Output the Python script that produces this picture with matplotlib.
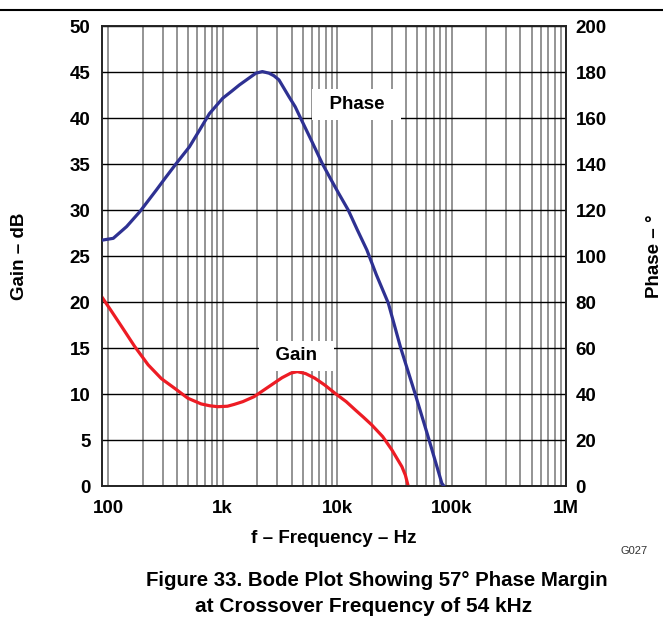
import numpy as np
import matplotlib
matplotlib.use('Agg')
from matplotlib import pyplot as plt
from matplotlib.ticker import FixedLocator, NullFormatter

plt.rcParams['font.family'] = ['Liberation Sans', 'DejaVu Sans']
plt.rcParams['font.weight'] = 'bold'

# Gain curve (Hz, dB)
gain_freq = [87.6, 107, 131, 170, 223, 291, 380, 496, 648, 770, 904, 1100, 1260, 1500,
             1880, 2800, 3300, 3940, 4480, 5300, 6400, 7800, 9600, 12000, 14400,
             17000, 20100, 25000, 30100, 36800, 39500, 41800]
gain_db = [20.6, 19.0, 17.35, 15.2, 13.2, 11.7, 10.65, 9.57, 8.95, 8.75, 8.65, 8.7, 8.9, 9.2,
           9.74, 11.2, 11.8, 12.3, 12.46, 12.25, 11.74, 11.0, 10.1, 9.2, 8.3,
           7.5, 6.66, 5.4, 3.95, 2.13, 1.2, 0.0]

# Phase curve (Hz, degrees)
phase_freq = [88, 110.5, 144.6, 188.7, 263, 320, 393.6, 512, 630, 765, 1000, 1200, 1400,
              1700, 1950, 2220, 2540, 2800, 3100, 3790, 4300, 4800, 6000, 7400, 8800,
              10300, 12500, 15000, 18200, 22000, 28000, 36000, 47900, 62000, 82200, 86000]
phase_deg = [107, 107.8, 112.9, 119.4, 128.8, 134.5, 140.4, 147.6, 155, 162, 168.7, 171.8, 174.5,
             177.5, 179.6, 180.3, 179.6, 178.5, 176.7, 169.4, 165, 160, 150, 140.4, 133.5,
             127.4, 120.1, 111.5, 102.7, 92, 79.6, 60, 40.4, 22, 1.3, 0]

freq_ticks = [1e2, 1e3, 1e4, 1e5, 1e6]
freq_labels = ['100', '1k', '10k', '100k', '1M']
gain_ticks = list(range(0, 51, 5))
phase_ticks = list(range(0, 201, 20))

fig = plt.figure(figsize=(6.63, 6.33), dpi=100)
ax = fig.add_axes([0.1534, 0.2318, 0.7003, 0.7267])
ax2 = ax.twinx()

ax.set_xscale('log')
ax.set_xlim(87.6, 1e6)
ax.set_ylim(0, 50)
ax2.set_ylim(0, 200)

# grid
minor = [m * d for d in [1e2, 1e3, 1e4, 1e5] for m in range(2, 10)]
ax.xaxis.set_major_locator(FixedLocator(freq_ticks))
ax.xaxis.set_minor_locator(FixedLocator(minor))
ax.xaxis.set_minor_formatter(NullFormatter())
ax.set_xticklabels(freq_labels)
ax.set_yticks(gain_ticks)
ax2.set_yticks(phase_ticks)
ax.grid(axis='x', which='both', color='#767676', lw=1.1)
ax.grid(axis='y', which='major', color='black', lw=1.0)
ax.set_axisbelow(True)

ax.plot(gain_freq, gain_db, color='#ED1C24', lw=2.3, zorder=3)
ax2.plot(phase_freq, phase_deg, color='#2E3192', lw=2.3, zorder=3)

for a in (ax, ax2):
    for s in a.spines.values():
        s.set_linewidth(1.2)
        s.set_color('#222222')
ax.tick_params(axis='both', which='both', length=0, labelsize=13.5)
ax.tick_params(axis='x', pad=10)
ax.tick_params(axis='y', pad=8)
ax2.tick_params(axis='y', length=0, labelsize=13.5, pad=7)

ax.set_xlabel('f – Frequency – Hz', fontsize=13.5, fontweight='bold', labelpad=9)
ax.set_ylabel('Gain – dB', fontsize=13.5, fontweight='bold', labelpad=30)
ax2.set_ylabel('Phase – °', fontsize=13.5, fontweight='bold', labelpad=28)

box = dict(boxstyle='square,pad=0.35', fc='white', ec='none')
ax.text(14800, 41.5, '  Phase  ', ha='center', va='center', fontsize=13.5,
        fontweight='bold', bbox=box, zorder=4)
ax.text(4420, 14.2, '  Gain  ', ha='center', va='center', fontsize=13.5,
        fontweight='bold', bbox=box, zorder=4)

# page decorations
fig.add_artist(plt.Line2D([0, 1], [1 - 9.5 / 633, 1 - 9.5 / 633], color='black', lw=1.5))
fig.text(634 / 663, 1 - 551 / 633, 'G027', ha='center', va='center', fontsize=8,
         fontweight='normal', color='#333333')
fig.text(377 / 663, 1 - 581 / 633, 'Figure 33. Bode Plot Showing 57° Phase Margin',
         ha='center', va='center', fontsize=14.7)
fig.text(364 / 663, 1 - 607 / 633, 'at Crossover Frequency of 54 kHz',
         ha='center', va='center', fontsize=15)

fig.savefig('out.png', dpi=100)
